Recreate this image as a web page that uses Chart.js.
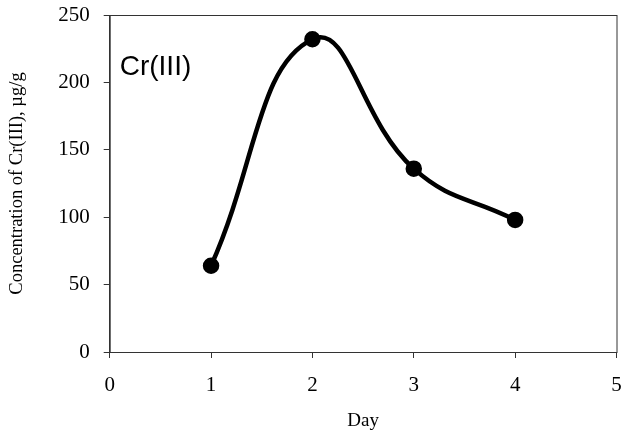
<!DOCTYPE html>
<html>
<head>
<meta charset="utf-8">
<script src="https://cdn.jsdelivr.net/npm/chart.js@4.4.0/dist/chart.umd.min.js"></script>
<style>
  html, body { margin: 0; padding: 0; background: #fff; }
  #wrap { width: 627px; height: 432px; }
</style>
</head>
<body>
<div id="wrap"><canvas id="chart" width="627" height="432"></canvas></div>
<script>
const days = [1, 2, 3, 4];
const crValues = [64, 232, 136, 98];
const xTicks = [0, 1, 2, 3, 4, 5];
const yTicks = [0, 50, 100, 150, 200, 250];

const serif = "'Liberation Serif', 'Times New Roman', serif";

// frame around the plot area plus the "Cr(III)" label
const frame = {
    id: 'frame',
    afterDraw(chart) {
        const { ctx, chartArea: a } = chart;
        ctx.save();
        ctx.strokeStyle = '#333';
        ctx.lineWidth = 1;
        ctx.strokeRect(a.left + 0.5, a.top + 0.5, a.right - a.left, a.bottom - a.top);
        ctx.fillStyle = '#000';
        ctx.font = "28px 'Liberation Sans', Arial, sans-serif";
        ctx.textBaseline = 'middle';
        ctx.fillText('Cr(III)', a.left + 10, a.top + 52);
        ctx.restore();
    }
};

// stop tick labels from pushing the plot area inwards
const noOverflow = s => {
    s.paddingTop = 0;
    s.paddingBottom = 0;
    s.paddingLeft = 0;
    s.paddingRight = 0;
};

new Chart(document.getElementById('chart').getContext('2d'), {
    type: 'scatter',
    data: {
        datasets: [{
            data: days.map((d, i) => ({ x: d, y: crValues[i] })),
            showLine: true,
            borderColor: '#000',
            backgroundColor: '#000',
            borderWidth: 4.5,
            tension: 0.45,
            pointRadius: 6,
            pointHoverRadius: 6
        }]
    },
    options: {
        responsive: false,
        animation: false,
        layout: { padding: { left: 6, right: 8, top: 15, bottom: 0 } },
        plugins: {
            legend: { display: false },
            tooltip: { enabled: false }
        },
        scales: {
            x: {
                type: 'linear',
                min: 0,
                max: 5,
                afterBuildTicks: s => { s.ticks = xTicks.map(v => ({ value: v })); },
                afterFit: s => { noOverflow(s); s.height = 80; },
                grid: { drawOnChartArea: false, drawTicks: true, tickLength: 6, color: '#333' },
                border: { color: '#333' },
                ticks: { color: '#000', font: { family: serif, size: 21 }, padding: 15 },
                title: { display: true, text: 'Day', color: '#000', font: { family: serif, size: 19 }, padding: { top: 0, bottom: 0 } }
            },
            y: {
                type: 'linear',
                min: 0,
                max: 250,
                afterBuildTicks: s => { s.ticks = yTicks.map(v => ({ value: v })); },
                afterFit: noOverflow,
                grid: { drawOnChartArea: false, drawTicks: true, tickLength: 6, color: '#333' },
                border: { color: '#333' },
                ticks: { color: '#000', font: { family: serif, size: 21 }, padding: 14 },
                title: { display: true, text: 'Concentration of Cr(III), µg/g', color: '#000', font: { family: serif, size: 18.5 }, padding: { top: 0, bottom: 16 } }
            }
        }
    },
    plugins: [frame]
});
</script>
</body>
</html>
